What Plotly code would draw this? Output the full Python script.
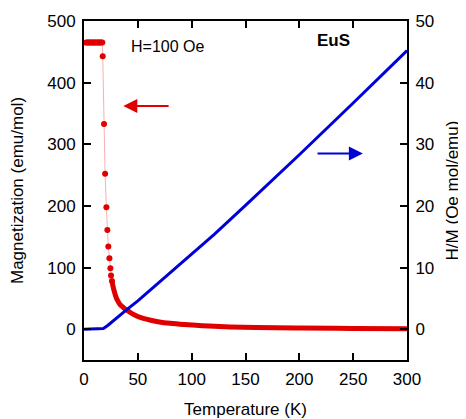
import plotly.graph_objects as go

# ---- data ----
# Magnetization, low-T plateau + sparse transition points (emu/mol)
m_plateau_T = [2, 3, 4, 5, 6, 7, 8, 9, 10, 11, 12, 13, 14, 15, 16, 17]
m_plateau_M = [465, 465, 465, 465, 465, 465, 465, 465, 465, 465, 465, 465, 465, 465, 465, 465]
m_trans_T = [17.4, 18.6, 19.6, 20.8, 21.7, 22.6, 23.6, 24.5, 25.1, 26.0]
m_trans_M = [443, 333, 252, 198, 161, 134, 115, 99, 87, 78]
# dense part (paramagnetic tail)
m_tail_T = [26, 27, 28, 29, 30, 31, 32, 33, 34, 36, 38, 40, 43, 46, 50, 55, 62, 70, 80, 93, 110, 121, 136, 160, 200, 250, 300]
m_tail_M = [78, 69, 62, 56, 51, 47, 44, 41, 39, 36, 33, 31, 27, 24, 20.5, 17.5, 14.5, 11.8, 9.6, 7.6, 5.6, 4.6, 3.7, 2.9, 1.9, 1.3, 0.9]

# Inverse susceptibility H/M (Oe mol/emu)
hm_T = [0, 10, 17, 18, 22, 26, 30, 35, 40, 50, 60, 77, 90, 121, 150, 200, 250, 300]
hm_V = [0, 0, 0, 0.1, 0.6, 1.2, 1.8, 2.5, 3.2, 4.6, 6.1, 8.7, 10.7, 15.4, 20.1, 28.3, 36.7, 45.2]

x_ticks = [0, 50, 100, 150, 200, 250, 300]
y1_ticks = [0, 100, 200, 300, 400, 500]
y2_ticks = [0, 10, 20, 30, 40, 50]

RED = "rgb(225,0,0)"
BLUE = "rgb(0,0,215)"
FONT = "Liberation Sans, Arial, sans-serif"

fig = go.Figure()

all_T = m_plateau_T + m_trans_T + m_tail_T[1:]
all_M = m_plateau_M + m_trans_M + m_tail_M[1:]
fig.add_trace(go.Scatter(x=all_T, y=all_M, mode="lines",
                         line=dict(color="rgba(235,80,80,0.45)", width=1),
                         hoverinfo="skip", showlegend=False))
fig.add_trace(go.Scatter(x=m_tail_T, y=m_tail_M, mode="lines",
                         line=dict(color=RED, width=5, shape="spline"),
                         showlegend=False))
fig.add_trace(go.Scatter(x=m_plateau_T + m_trans_T, y=m_plateau_M + m_trans_M, mode="markers",
                         marker=dict(color=RED, size=6), showlegend=False))
fig.add_trace(go.Scatter(x=hm_T, y=hm_V, mode="lines", yaxis="y2",
                         line=dict(color=BLUE, width=3), showlegend=False))

axis_common = dict(showline=True, linecolor="black", linewidth=2, ticks="inside",
                   ticklen=7, tickwidth=2, tickcolor="black", showgrid=False,
                   zeroline=False, automargin=False, ticklabelstandoff=3,
                   tickfont=dict(size=17, color="black", family=FONT))

# the page body adds an 8px offset, so the figure is sized to the remaining window
fig.update_layout(
    width=458, height=411,
    margin=dict(l=76, r=59, t=13, b=59),
    paper_bgcolor="white", plot_bgcolor="white",
    font=dict(family=FONT, color="black"),
    xaxis=dict(range=[0, 300], tickvals=x_ticks, mirror="ticks",
               title=dict(text="Temperature (K)", font=dict(size=17), standoff=16),
               **axis_common),
    yaxis=dict(range=[-50, 500], tickvals=y1_ticks,
               title=dict(text="Magnetization (emu/mol)", font=dict(size=17), standoff=20),
               **axis_common),
    yaxis2=dict(range=[-5, 50], tickvals=y2_ticks, overlaying="y", side="right",
                title=dict(text="H/M (Oe mol/emu)", font=dict(size=17), standoff=13),
                **axis_common),
    annotations=[
        dict(x=36.5, y=362, ax=80, ay=362, xref="x", yref="y", axref="x", ayref="y",
             text="", showarrow=True, arrowhead=2, arrowsize=1.4, arrowwidth=2, arrowcolor=RED),
        dict(x=259, y=28.5, ax=215.5, ay=28.5, xref="x", yref="y2", axref="x", ayref="y2",
             text="", showarrow=True, arrowhead=2, arrowsize=1.4, arrowwidth=2, arrowcolor=BLUE),
        dict(x=41.8, y=458, xref="x", yref="y", text="H=100 Oe", showarrow=False,
             xanchor="left", font=dict(size=16, color="black")),
        dict(x=231.7, y=469, xref="x", yref="y", text="<b>EuS</b>", showarrow=False,
             xanchor="center", font=dict(size=17, color="black")),
    ],
)

fig.write_html("out.html")
